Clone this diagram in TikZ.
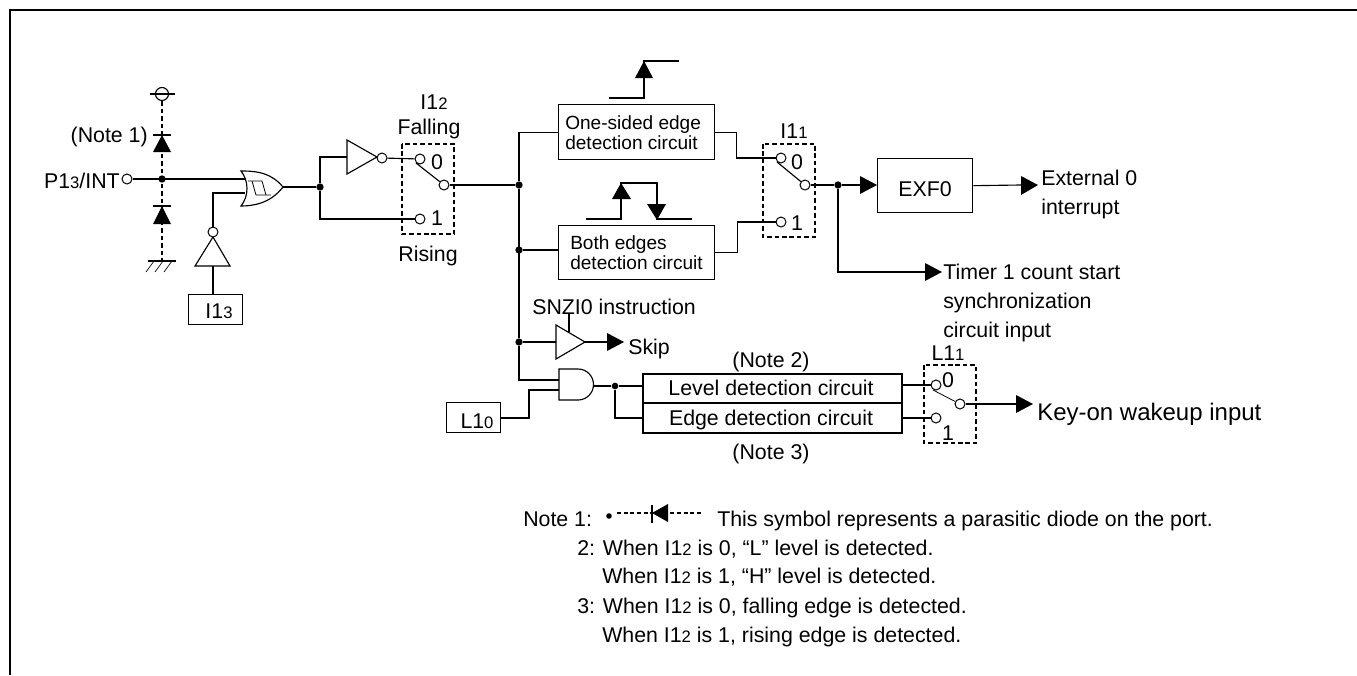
\documentclass[tikz,border=0pt]{standalone}
\usepackage{fontspec}
\setmainfont{Liberation Sans}
\usetikzlibrary{positioning}
\usetikzlibrary{arrows.meta}

\newcommand{\smalldig}[1]{{\fontsize{12.5}{14}\selectfont #1}}
\tikzset{
  wire/.style={line width=0.85pt},
  dashwire/.style={line width=0.85pt,dash pattern=on 3.4pt off 2.2pt},
  solidtip/.style={fill=black,draw=none},
  gatebody/.style={line width=0.85pt,fill=white},
  term/.style={circle,draw,line width=0.75pt,fill=white,inner sep=0pt,minimum size=7.5pt},
  bubble/.style={circle,draw,line width=0.75pt,fill=white,inner sep=0pt,minimum size=7.5pt},
  junction/.style={circle,fill=black,inner sep=0pt,minimum size=5.5pt},
  regbox/.style={draw,line width=1pt,inner sep=0pt,anchor=north west},
  lab/.style={font=\fontsize{16}{18}\selectfont,inner sep=0pt,text height=11.5pt,text depth=0pt},
  boxlab/.style={font=\fontsize{14.3}{16}\selectfont,inner sep=0pt,anchor=west,text height=10.3pt,text depth=0pt},
}

\begin{document}
\begin{tikzpicture}[x=0.75pt,y=-0.75pt]
  \useasboundingbox (0,0) rectangle (1357,675);

  % frame
  \draw[line width=2pt] (10,675) -- (10,10) -- (1357,10);

  % port and diodes
  \node[term] (port) at (127,179) {};
  \coordinate (vcc) at (162,94);
  \coordinate (gnd) at (162,261);
  \draw[dashwire] (vcc) -- (gnd);
  \draw[wire,fill=white] (vcc) circle (6.5);
  \draw[wire] (150,94) -- (175,94);
  \draw[wire] (153,135) -- (171,135);
  \path[solidtip] (162,135) -- (171,152) -- (153,152) -- cycle;
  \draw[wire] (153,206) -- (171,206);
  \path[solidtip] (162,206) -- (171,224) -- (153,224) -- cycle;
  \draw[wire] (148,261) -- (176,261);
  \foreach \hx in {154,163,172} {
    \draw[line width=0.5pt] (\hx,261) -- (\hx-8,272);
  }
  \node[junction] (dotport) at (162,179) {};
  \node[lab,anchor=east] (labnotea) at (148,135) {(Note 1)};
  \node[lab,anchor=east] (labport) at (120,181) {P1\smalldig{3}/INT};

  % OR gate with schmitt
  \coordinate (orup) at (245,179);
  \coordinate (orlow) at (245,193);
  \coordinate (orout) at (283,187);
  \draw[wire] (port) -- (orup);
  \draw[gatebody] (241,171) .. controls (252,171) and (270,171) .. (orout)
    .. controls (270,204) and (252,206) .. (241,206)
    .. controls (249,196) and (249,181) .. (241,171) -- cycle;
  \draw[line width=0.6pt] (248,181) -- (262,181) -- (266,195);
  \draw[line width=0.6pt] (252,181) -- (256,195) -- (271,195);

  % I13
  \node[regbox,minimum width=40.5pt,minimum height=22.5pt] (boxiic) at (188,294) {};
  \node[lab] (labiic) at (219,311) {I1\smalldig{3}};
  \coordinate (invbase) at (213,266);
  \draw[gatebody] (213,237) -- (230,266) -- (195,266) -- cycle;
  \node[bubble] (bubinv) at (213,232) {};
  \draw[wire] (boxiic.north -| invbase) -- (invbase);
  \draw[wire] (bubinv.north) |- (orlow);

  % inverter and I12
  \node[junction] (dotor) at (320,187) {};
  \draw[wire] (orout) -- (dotor);
  \coordinate (invin) at (347,157);
  \draw[wire] (dotor) |- (invin);
  \draw[gatebody] (347,140) -- (377,157) -- (347,174) -- cycle;
  \node[bubble] (bubsel) at (382,158) {};
  \node[term] (swazero) at (420,159) {};
  \node[term] (swaone) at (420,219) {};
  \node[term] (swaout) at (444,185) {};
  \draw[wire] (bubsel) -- (swazero);
  \draw[wire] (dotor) |- (swaone);
  \draw[wire] (416,163) -- (swaout);
  \draw[dashwire] (402,144) rectangle (454,234);
  \node[lab] (labzeroa) at (437,162) {0};
  \node[lab] (labonea) at (437,218) {1};
  \node[lab] (labiib) at (434,102) {I1\smalldig{2}};
  \node[lab] (labfall) at (429,127) {Falling};
  \node[lab] (labrise) at (428,254) {Rising};

  % edge circuits
  \node[regbox,minimum width=117pt,minimum height=41.25pt] (boxone) at (558,104) {};
  \node[regbox,minimum width=117pt,minimum height=40.5pt] (boxboth) at (558,225) {};
  \node[boxlab] (labonesa) at (565,123) {One-sided edge};
  \node[boxlab] (labonesb) at (565,143) {detection circuit};
  \node[boxlab] (labbotha) at (570,243) {Both edges};
  \node[boxlab] (labbothb) at (570,263) {detection circuit};

  % bus
  \node[junction] (dotsw) at (519,185) {};
  \node[junction] (dotboth) at (519,250) {};
  \node[junction] (dotskip) at (519,342) {};
  \coordinate (andup) at (559,380);
  \draw[wire] (swaout) -- (dotsw);
  \draw[wire] (boxone.west) -| (dotsw) -- (dotskip) |- (andup);
  \draw[wire] (dotboth) -- (dotboth -| boxboth.west);

  % edge symbols
  \draw[wire] (609,98) -- (644,98) -- (644,61) -- (679,61);
  \path[solidtip] (644,61) -- (653,78) -- (635,78) -- cycle;
  \draw[wire] (586,219) -- (621,219) -- (621,183) -- (657,183) -- (657,219) -- (692,219);
  \path[solidtip] (621,183) -- (631,199) -- (612,199) -- cycle;
  \path[solidtip] (657,220) -- (666,204) -- (647,204) -- cycle;

  % I11
  \node[term] (swbzero) at (781,158) {};
  \node[term] (swbone) at (781,222) {};
  \node[term] (swbout) at (805,185) {};
  \draw[wire] (boxone.east) -- ++(21,0) |- (swbzero);
  \draw[wire] (boxboth.east) -- ++(22,0) |- (swbone);
  \draw[wire] (777,162) -- (swbout);
  \draw[dashwire] (763,144) rectangle (815,237);
  \node[lab] (labzerob) at (797,162) {0};
  \node[lab] (labmoneb) at (797,223) {1};
  \node[lab] (labiia) at (794,131) {I1\smalldig{1}};

  % EXF0
  \node[junction] (dotexf) at (838,185) {};
  \node[regbox,minimum width=71.25pt,minimum height=40.5pt] (boxexf) at (877,158) {};
  \node[lab] (labexf) at (925,189) {EXF0};
  \draw[wire] (swbout) -- (dotexf) -- (860,185);
  \path[solidtip] (877,185) -- (860,176) -- (860,194) -- cycle;
  \draw[wire] (boxexf.east) -- (1021,185);
  \path[solidtip] (1038,185) -- (1021,176) -- (1021,195) -- cycle;
  \node[lab,anchor=west] (labexta) at (1041,178) {External 0};
  \node[lab,anchor=west] (labextb) at (1041,207) {interrupt};
  \coordinate (timin) at (925,272);
  \draw[wire] (dotexf) |- (timin);
  \path[solidtip] (942,272) -- (925,263) -- (925,281) -- cycle;
  \node[lab,anchor=west] (labtima) at (943,272) {Timer 1 count start};
  \node[lab,anchor=west] (labtimb) at (943,301) {synchronization};
  \node[lab,anchor=west] (labtimc) at (943,330) {circuit input};

  % skip buffer
  \node[lab,anchor=west] (labsnz) at (532,307) {SNZI0 instruction};
  \draw[wire] (569,313) -- (569,332);
  \coordinate (bufin) at (556,342);
  \draw[wire] (dotskip) -- (bufin);
  \draw[gatebody] (556,325) -- (585,342) -- (556,359) -- cycle;
  \draw[wire] (585,342) -- (607,342);
  \path[solidtip] (624,342) -- (607,333) -- (607,351) -- cycle;
  \node[lab,anchor=west] (labskip) at (628,347) {Skip};

  % and gate, L10
  \node[regbox,minimum width=40.5pt,minimum height=22.5pt] (boxlz) at (446,402) {};
  \node[lab] (lablz) at (477,421) {L1\smalldig{0}};
  \draw[wire] (500,418) -- (529,418) -- (529,390) -- (559,390);
  \draw[gatebody] (559,369) -- (578,369) arc (-90:90:15.5) -- (559,400) -- cycle;

  % level and edge
  \node[regbox,line width=1.5pt,minimum width=194.25pt,minimum height=21.75pt] (boxlvl) at (642,373) {};
  \node[regbox,line width=1.5pt,minimum width=194.25pt,minimum height=22.5pt] (boxedg) at (642,402) {};
  \node[lab] (lablvl) at (771,388) {Level detection circuit};
  \node[lab] (labedg) at (771,418) {Edge detection circuit};
  \node[lab] (labnoteb) at (771,360) {(Note 2)};
  \node[lab] (labnotec) at (771,452) {(Note 3)};
  \node[junction,minimum size=5pt] (dotand) at (615,386) {};
  \draw[wire] (594,386) -- (dotand) -- (dotand -| boxlvl.west);
  \draw[wire] (dotand) |- (boxedg.west);

  % L11
  \node[term] (swczero) at (936,385) {};
  \node[term] (swcone) at (936,418) {};
  \node[term] (swcout) at (960,404) {};
  \draw[wire] (swczero -| boxlvl.east) -- (swczero);
  \draw[wire] (swcone -| boxedg.east) -- (swcone);
  \draw[line width=0.6pt] (933,390) -- (swcout);
  \draw[dashwire] (924,365) rectangle (976,443);
  \node[lab] (labzeroc) at (948,380) {0};
  \node[lab] (labonec) at (948,433) {1};
  \node[lab] (labiid) at (948,353) {L1\smalldig{1}};
  \draw[wire] (swcout) -- (1016,404);
  \path[solidtip] (1033,404) -- (1016,395) -- (1016,413) -- cycle;
  \node[anchor=west,inner sep=0pt,font=\fontsize{18}{20}\selectfont,text height=13pt,text depth=0pt] (labkey) at (1037,412) {Key-on wakeup input};

  % notes
  \node[lab,anchor=west] (nonea) at (523,519) {Note 1:};
  \fill (609,516) circle (2.8);
  \draw[line width=0.8pt,dash pattern=on 3pt off 2pt] (617,513) -- (702,513);
  \draw[wire] (652,505) -- (652,523);
  \path[solidtip] (652,513) -- (668,504) -- (668,522) -- cycle;
  \node[lab,anchor=west] (noneb) at (717,519) {This symbol represents a parasitic diode on the port.};
  \node[lab,anchor=west] (ntwoa) at (577,548) {2: When I1\smalldig{2} is 0, “L” level is detected.};
  \node[lab,anchor=west] (ntwob) at (602,576) {When I1\smalldig{2} is 1, “H” level is detected.};
  \node[lab,anchor=west] (nthra) at (577,606) {3: When I1\smalldig{2} is 0, falling edge is detected.};
  \node[lab,anchor=west] (nthrb) at (602,635) {When I1\smalldig{2} is 1, rising edge is detected.};
\end{tikzpicture}
\end{document}
